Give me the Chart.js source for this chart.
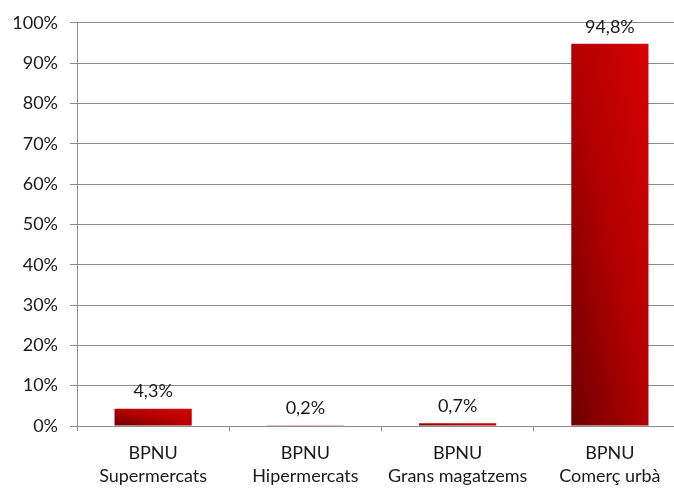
<!DOCTYPE html>
<html>
<head>
<meta charset="utf-8">
<script src="https://cdn.jsdelivr.net/npm/chart.js@4.4.0/dist/chart.umd.min.js"></script>
<style>
    html, body { margin: 0; padding: 0; background: #fff; overflow: hidden; }
    #wrap { position: relative; width: 686px; height: 488px; }
</style>
</head>
<body>
<div id="wrap"><canvas id="chart"></canvas></div>
<script>
// Data
const categories = [
    ['BPNU', 'Supermercats'],
    ['BPNU', 'Hipermercats'],
    ['BPNU', 'Grans magatzems'],
    ['BPNU', 'Comerç urbà']
];
const shares = [4.3, 0.2, 0.7, 94.8];
const yTicks = [0, 10, 20, 30, 40, 50, 60, 70, 80, 90, 100];

const GRID = '#8c8c8c';
const FONT = { family: 'Lato', size: 18 };
const BAR_PCT = 0.507;

// Bar gradient: dark at bottom-left, bright at top-right (relative to the bar box)
function barFill(ctx) {
    const chart = ctx.chart;
    if (!chart.chartArea || ctx.type !== 'data') return '#b00000';
    const xs = chart.scales.x, ys = chart.scales.y;
    const cx = xs.getPixelForValue(ctx.dataIndex);
    const w = (xs.width / categories.length) * BAR_PCT;
    const top = ys.getPixelForValue(ctx.parsed.y);
    const bottom = ys.getPixelForValue(0);
    const h = Math.max(bottom - top, 1);
    const x0 = cx - w / 2, y0 = bottom;
    const k = 2 * w * h / (w * w + h * h);
    const g = chart.ctx.createLinearGradient(x0, y0, x0 + k * h, y0 - k * w);
    g.addColorStop(0, '#6e0000');
    g.addColorStop(0.5, '#b20000');
    g.addColorStop(1, '#d60000');
    return g;
}

// Value labels above the bars
const valueLabels = {
    id: 'valueLabels',
    afterDatasetsDraw(chart) {
        const ctx = chart.ctx;
        const meta = chart.getDatasetMeta(0);
        ctx.save();
        ctx.font = FONT.size + 'px ' + FONT.family;
        ctx.fillStyle = '#1a1a1a';
        ctx.textAlign = 'center';
        ctx.textBaseline = 'middle';
        meta.data.forEach((bar, i) => {
            const txt = shares[i].toFixed(1).replace('.', ',') + '%';
            ctx.fillText(txt, bar.x, bar.y - 17);
        });
        ctx.restore();
    }
};

new Chart(document.getElementById('chart'), {
    type: 'bar',
    data: {
        labels: categories,
        datasets: [{
            data: shares,
            backgroundColor: barFill,
            borderWidth: 0,
            categoryPercentage: 1,
            barPercentage: BAR_PCT
        }]
    },
    options: {
        responsive: true,
        maintainAspectRatio: false,
        animation: false,
        layout: { padding: { top: 21, right: 0, bottom: 0, left: 0 } },
        plugins: {
            legend: { display: false },
            tooltip: { enabled: false }
        },
        scales: {
            x: {
                afterFit: s => { s.height = 62; },
                grid: {
                    display: true,
                    drawOnChartArea: false,
                    drawTicks: true,
                    tickLength: 5,
                    color: GRID
                },
                border: { display: true, color: GRID },
                ticks: {
                    color: '#1a1a1a',
                    font: { ...FONT, lineHeight: 1.28 },
                    padding: 11,
                    maxRotation: 0,
                    autoSkip: false
                }
            },
            y: {
                min: 0,
                max: 100,
                afterFit: s => { s.width = 77; },
                afterBuildTicks: s => { s.ticks = yTicks.map(v => ({ value: v })); },
                grid: { color: GRID, tickLength: 7 },
                border: { display: true, color: GRID },
                ticks: {
                    color: '#1a1a1a',
                    font: FONT,
                    padding: 12,
                    callback: v => v + '%'
                }
            }
        }
    },
    plugins: [valueLabels]
});
</script>
</body>
</html>
